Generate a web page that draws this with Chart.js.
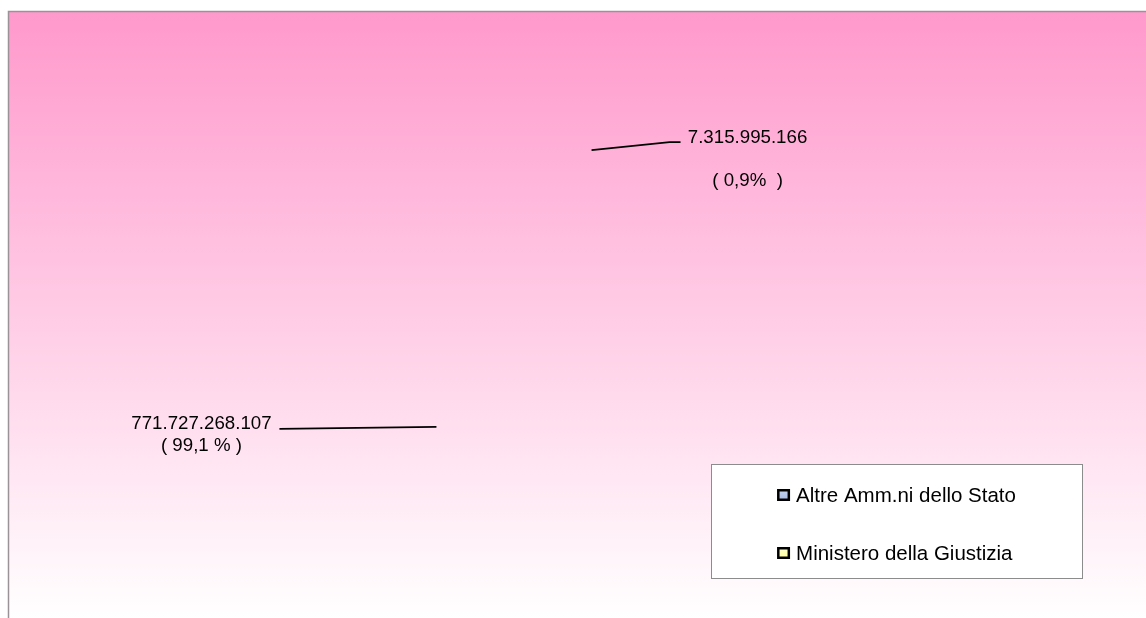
<!DOCTYPE html>
<html>
<head>
  <title>Ripartizione</title>
  <style>
    body { margin: 0; background: #fff; }
    #chart { display: block; }
  </style>
  <script src="https://cdn.jsdelivr.net/npm/chart.js"></script>
</head>
<body>
  <canvas id="chart" width="1146" height="618"></canvas>
  <script>
    const categories = ['Altre Amm.ni dello Stato', 'Ministero della Giustizia'];
    const values = [771727268107, 7315995166];
    const percentText = ['( 99,1 % )', '( 0,9%  )'];
    const legendColors = ['#a7bbe6', '#ffff99'];

    const FONT = '"Liberation Sans", Arial, Helvetica, sans-serif';

    // where the leader line leaves each slice (fraction of its arc) and where its label sits
    const leaderAt = [0.6736, 0.5];
    const labelStyle = [
      { path: [[-157, 2]], text: [-235, 2], gap: 22 },
      { path: [[78, -8], [89, -8]], text: [156, -7], gap: 43 }
    ];

    function fmt(n) {
      return String(n).replace(/\B(?=(\d{3})+(?!\d))/g, '.');
    }

    const backdrop = {
      id: 'backdrop',
      beforeDraw(chart) {
        const ctx = chart.ctx;
        const w = chart.width, h = chart.height;
        ctx.save();
        ctx.fillStyle = '#ffffff';
        ctx.fillRect(0, 0, w, h);
        const g = ctx.createLinearGradient(0, 11, 0, h);
        g.addColorStop(0, '#ff99cc');
        g.addColorStop(1, '#ffffff');
        ctx.fillStyle = g;
        ctx.fillRect(8, 11, w, h);
        ctx.strokeStyle = '#9a9296';
        ctx.lineWidth = 1.5;
        ctx.beginPath();
        ctx.moveTo(8.5, h + 2);
        ctx.lineTo(8.5, 11.5);
        ctx.lineTo(w + 2, 11.5);
        ctx.stroke();
        ctx.restore();
      }
    };

    const leaderLabels = {
      id: 'leaderLabels',
      afterDatasetsDraw(chart) {
        const ctx = chart.ctx;
        const meta = chart.getDatasetMeta(0);
        ctx.save();
        meta.data.forEach((arc, i) => {
          const p = arc.getProps(['x', 'y', 'startAngle', 'endAngle', 'outerRadius'], true);
          const a = p.startAngle + (p.endAngle - p.startAngle) * leaderAt[i];
          const ax = p.x + Math.cos(a) * p.outerRadius;
          const ay = p.y + Math.sin(a) * p.outerRadius;
          const st = labelStyle[i];
          ctx.strokeStyle = '#000';
          ctx.lineWidth = 1.7;
          ctx.beginPath();
          ctx.moveTo(ax, ay);
          st.path.forEach(pt => ctx.lineTo(ax + pt[0], ay + pt[1]));
          ctx.stroke();
          ctx.fillStyle = '#000';
          ctx.font = '18.7px ' + FONT;
          ctx.textAlign = 'center';
          ctx.textBaseline = 'alphabetic';
          const tx = ax + st.text[0], ty = ay + st.text[1];
          ctx.fillText(fmt(values[i]), tx, ty);
          ctx.fillText(percentText[i], tx, ty + st.gap);
        });
        ctx.restore();
      }
    };

    const boxLegend = {
      id: 'boxLegend',
      afterDraw(chart) {
        const ctx = chart.ctx;
        const box = { x: 711, y: 464, w: 371, h: 114 };
        ctx.save();
        ctx.fillStyle = '#ffffff';
        ctx.fillRect(box.x, box.y, box.w, box.h);
        ctx.strokeStyle = '#8c8c8c';
        ctx.lineWidth = 1;
        ctx.strokeRect(box.x + 0.5, box.y + 0.5, box.w, box.h);
        ctx.font = '20.5px ' + FONT;
        ctx.textBaseline = 'middle';
        ctx.textAlign = 'left';
        const labels = chart.data.labels;
        const textW = Math.max(...labels.map(l => ctx.measureText(l).width));
        const itemW = 19 + textW;
        const left = box.x + (box.w - itemW) / 2;
        labels.forEach((l, i) => {
          const cy = box.y + 31 + i * 58;
          const g = ctx.createLinearGradient(0, cy - 5, 0, cy + 5);
          g.addColorStop(0, i === 0 ? '#c4d2f0' : '#ffffcc');
          g.addColorStop(1, legendColors[i]);
          ctx.fillStyle = g;
          ctx.fillRect(left, cy - 6, 13, 12);
          ctx.strokeStyle = '#000';
          ctx.lineWidth = 2.5;
          ctx.strokeRect(left + 1.25, cy - 4.75, 10.5, 9.5);
          ctx.fillStyle = '#000';
          ctx.fillText(l, left + 19, cy + 1);
        });
        ctx.restore();
      }
    };

    new Chart(document.getElementById('chart').getContext('2d'), {
      type: 'pie',
      data: {
        labels: categories,
        datasets: [{
          data: values,
          backgroundColor: 'rgba(0,0,0,0)',
          borderWidth: 0,
          hoverOffset: 0
        }]
      },
      options: {
        responsive: false,
        animation: false,
        devicePixelRatio: 1,
        events: [],
        layout: { padding: { left: 412, right: 364, top: 150, bottom: 98 } },
        plugins: {
          legend: { display: false },
          tooltip: { enabled: false }
        }
      },
      plugins: [backdrop, leaderLabels, boxLegend]
    });
  </script>
</body>
</html>
